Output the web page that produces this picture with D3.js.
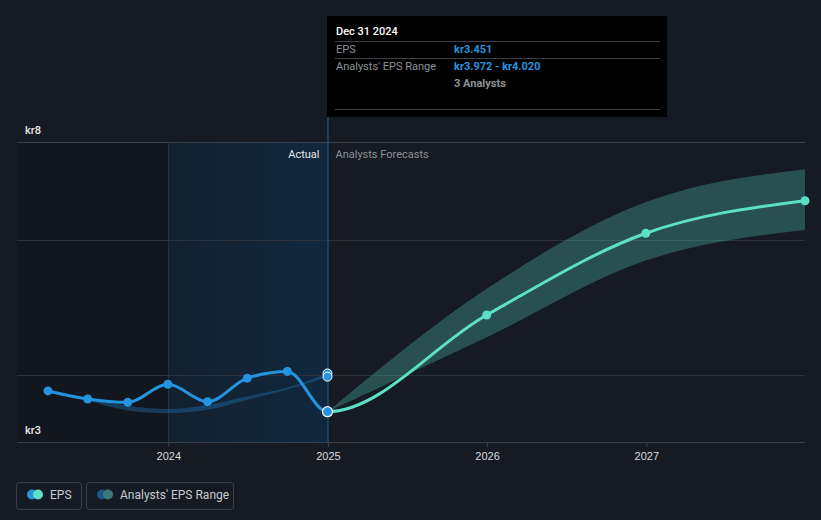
<!DOCTYPE html>
<html><head><meta charset="utf-8">
<script src="https://cdn.jsdelivr.net/npm/d3@7"></script>
<style>
html,body{margin:0;padding:0;background:#151a23;}
svg{display:block;font-family:Roboto,"Noto Sans",sans-serif;}
</style></head><body>
<svg id="c" width="821" height="520"></svg>
<script>
// ---- data ----
const histDates = ["2023-03-31","2023-06-30","2023-09-30","2023-12-31","2024-03-31","2024-06-30","2024-09-30","2024-12-31"];
const histEPS   = [3.76, 3.64, 3.59, 3.86, 3.60, 3.95, 4.05, 3.451];
const pastRangeDates = ["2023-06-30","2023-09-30","2023-12-31","2024-03-31","2024-06-30","2024-09-30","2024-12-31"];
const pastRangeLow   = [3.62, 3.47, 3.43, 3.48, 3.63, 3.78, 3.972];
const pastRangeHigh  = [3.65, 3.54, 3.49, 3.55, 3.68, 3.81, 4.020];
const fcDates = ["2024-12-31","2025-12-31","2026-12-31","2027-12-31"];
const fcEPS   = [3.451, 4.89, 6.106, 6.59];
const fcLow   = [3.451, 4.56, 5.70, 6.155];
const fcHigh  = [3.451, 5.28, 6.57, 7.06];
const yDomain = [3, 7.464];
const yGrid = [4, 6];
const yLabels = [{v:3, t:"kr3"}, {v:7.464, t:"kr8"}];
const xTickYears = [2024, 2025, 2026, 2027];
const xDomain = ["2023-01-19","2027-12-31"];
const tooltip = {date:"Dec 31 2024", eps:"kr3.451", range:"kr3.972 - kr4.020", analysts:"3 Analysts"};

const P = d3.timeParse("%Y-%m-%d");
const svg = d3.select("#c");
const x = d3.scaleTime().domain(xDomain.map(P)).range([17, 805]);
const y = d3.scaleLinear().domain(yDomain).range([442, 142]);
const H = histDates.map((d,i)=>({d:P(d), v:histEPS[i]}));
const PR = pastRangeDates.map((d,i)=>({d:P(d), lo:pastRangeLow[i], hi:pastRangeHigh[i]}));
const F = fcDates.map((d,i)=>({d:P(d), v:fcEPS[i], lo:fcLow[i], hi:fcHigh[i]}));
const ALL = H.concat(F.slice(1));

svg.append("rect").attr("width",821).attr("height",520).attr("fill","#151a23");

const defs = svg.append("defs");
const g1 = defs.append("linearGradient").attr("id","pastg").attr("x1","0").attr("x2","1").attr("y1","0").attr("y2","0");
g1.append("stop").attr("offset","0").attr("stop-color","#13202d");
g1.append("stop").attr("offset","1").attr("stop-color","#10283f");

const xStart = x(P(xDomain[0])), x2024 = x(new Date(2024,0,1)), xNow = x(P("2024-12-31"));
defs.append("clipPath").attr("id","clipPast").append("rect").attr("x",0).attr("y",0).attr("width",xNow).attr("height",520);
defs.append("clipPath").attr("id","clipFut").append("rect").attr("x",xNow).attr("y",0).attr("width",821-xNow).attr("height",520);

svg.append("rect").attr("x",xStart).attr("y",142).attr("width",x2024-xStart).attr("height",300).attr("fill","#12161e");
svg.append("rect").attr("x",x2024).attr("y",142).attr("width",xNow-x2024).attr("height",300).attr("fill","url(#pastg)");

// grid
svg.append("g").selectAll("line").data(yGrid.concat(yDomain)).join("line")
  .attr("x1",17).attr("x2",805).attr("y1",d=>Math.round(y(d))+0.5).attr("y2",d=>Math.round(y(d))+0.5)
  .attr("stroke",(d,i)=>i<yGrid.length?"#2b313b":"#3a404a").attr("stroke-width",1);
svg.append("line").attr("x1",Math.round(x2024)+0.5).attr("x2",Math.round(x2024)+0.5).attr("y1",142).attr("y2",442)
  .attr("stroke","#1c3448").attr("stroke-width",1);

// x axis
const xa = svg.append("g").attr("transform","translate(0,442)")
  .call(d3.axisBottom(x).tickValues(xTickYears.map(yr=>new Date(yr,0,1))).tickFormat(d3.timeFormat("%Y")).tickSize(5).tickPadding(5));
xa.select(".domain").remove();
xa.selectAll(".tick line").attr("stroke","#3a404a");
xa.selectAll("text").attr("fill","#d8dadd").attr("font-size",11).attr("font-weight",500);

// y labels
svg.append("g").selectAll("text").data(yLabels).join("text")
  .attr("x",25).attr("y",d=>y(d.v)-8).text(d=>d.t)
  .attr("fill","#e6e7e9").attr("font-size",11).attr("font-weight",500);

// forecast band
svg.append("path").datum(F).attr("fill","rgba(88,205,185,0.30)")
  .attr("d",d3.area().x(d=>x(d.d)).y0(d=>y(d.lo)).y1(d=>y(d.hi)).curve(d3.curveMonotoneX));
// past band
svg.append("path").datum(PR).attr("fill","rgba(35,130,200,0.35)")
  .attr("d",d3.area().x(d=>x(d.d)).y0(d=>y(d.lo)).y1(d=>y(d.hi)).curve(d3.curveMonotoneX));

// tooltip vertical line
svg.append("line").attr("x1",xNow+0.5).attr("x2",xNow+0.5).attr("y1",117).attr("y2",442)
  .attr("stroke","#1f4d72").attr("stroke-width",1.5);

// lines (one continuous EPS curve, coloured past / forecast)
const lineGen = d3.line().x(d=>x(d.d)).y(d=>y(d.v)).curve(d3.curveMonotoneX);
svg.append("path").datum(ALL).attr("fill","none").attr("stroke","#2394df").attr("stroke-width",3)
  .attr("clip-path","url(#clipPast)").attr("d",lineGen);
svg.append("path").datum(ALL).attr("fill","none").attr("stroke","#5ce0c6").attr("stroke-width",3)
  .attr("clip-path","url(#clipFut)").attr("d",lineGen);

// points
svg.append("g").selectAll("circle").data(H.slice(0,-1)).join("circle")
  .attr("cx",d=>x(d.d)).attr("cy",d=>y(d.v)).attr("r",4.5).attr("fill","#2394df");
svg.append("g").selectAll("circle").data(F.slice(1)).join("circle")
  .attr("cx",d=>x(d.d)).attr("cy",d=>y(d.v)).attr("r",4.5).attr("fill","#5ce0c6");
const last = PR[PR.length-1];
svg.append("g").selectAll("circle").data([last.hi,last.lo]).join("circle")
  .attr("cx",x(last.d)).attr("cy",d=>y(d)).attr("r",4.5).attr("fill","#2394df").attr("stroke","#fff").attr("stroke-width",1);
const lh = H[H.length-1];
svg.append("circle").attr("cx",x(lh.d)).attr("cy",y(lh.v)).attr("r",5).attr("fill","#2394df").attr("stroke","#fff").attr("stroke-width",1.2);

// section labels
svg.append("text").attr("x",xNow-8).attr("y",158).attr("text-anchor","end").text("Actual")
  .attr("fill","#e6e7e9").attr("font-size",11);
svg.append("text").attr("x",xNow+8).attr("y",158).text("Analysts Forecasts")
  .attr("fill","#8d9197").attr("font-size",11);

// tooltip
const tt = svg.append("g");
tt.append("rect").attr("x",327).attr("y",16).attr("width",340).attr("height",101).attr("fill","#000");
[41.5,58.5,109.5].forEach(yy=>tt.append("line").attr("x1",335).attr("x2",660).attr("y1",yy).attr("y2",yy).attr("stroke","#3c3f44"));
tt.append("text").attr("x",336).attr("y",35).text(tooltip.date).attr("fill","#fff").attr("font-size",11).attr("font-weight",500);
tt.append("text").attr("x",336).attr("y",53).text("EPS").attr("fill","#8d9197").attr("font-size",11);
tt.append("text").attr("x",454).attr("y",53).text(tooltip.eps).attr("fill","#2394df").attr("font-size",11).attr("font-weight",700);
tt.append("text").attr("x",336).attr("y",70).text("Analysts' EPS Range").attr("fill","#8d9197").attr("font-size",11);
tt.append("text").attr("x",454).attr("y",70).text(tooltip.range).attr("fill","#2394df").attr("font-size",11).attr("font-weight",700);
tt.append("text").attr("x",454).attr("y",87).text(tooltip.analysts).attr("fill","#8d9197").attr("font-size",11).attr("font-weight",700);

// legend
const lg = svg.append("g");
lg.append("rect").attr("x",16.5).attr("y",482.5).attr("width",65).attr("height",27).attr("rx",3).attr("fill","none").attr("stroke","#3a3f48");
lg.append("circle").attr("cx",32).attr("cy",494.5).attr("r",5).attr("fill","#2394df");
lg.append("circle").attr("cx",38).attr("cy",494.5).attr("r",5).attr("fill","#5ce0c6");
lg.append("text").attr("x",50).attr("y",499).text("EPS").attr("fill","#c9cbce").attr("font-size",12);
lg.append("rect").attr("x",86.5).attr("y",482.5).attr("width",147).attr("height",27).attr("rx",3).attr("fill","none").attr("stroke","#3a3f48");
lg.append("circle").attr("cx",102).attr("cy",494.5).attr("r",5).attr("fill","#1d5686");
lg.append("circle").attr("cx",108).attr("cy",494.5).attr("r",5).attr("fill","#3a7a76");
lg.append("text").attr("x",120).attr("y",499).text("Analysts' EPS Range").attr("fill","#c9cbce").attr("font-size",12);
</script></body></html>
